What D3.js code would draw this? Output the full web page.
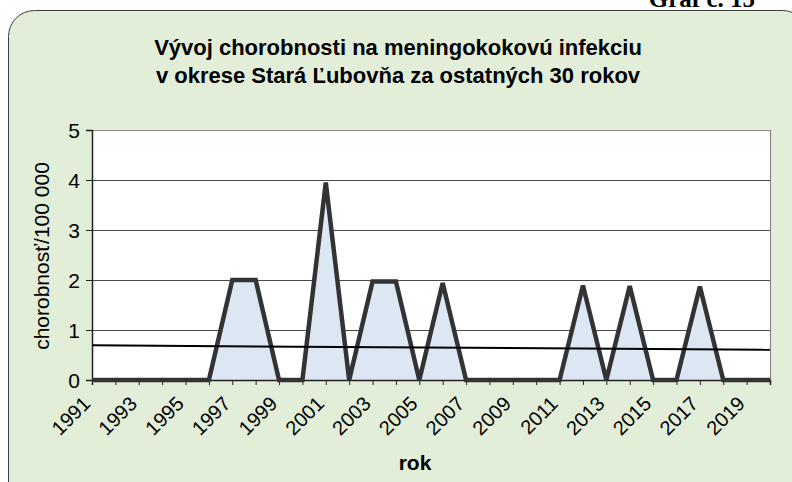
<!DOCTYPE html>
<html>
<head>
<meta charset="utf-8">
<script src="https://cdn.jsdelivr.net/npm/d3@7"></script>
<style>
  html, body { margin: 0; padding: 0; background: #ffffff; }
  svg { display: block; }
</style>
</head>
<body>
<svg id="chart" width="792" height="482"></svg>
<script>
const years = [1991,1992,1993,1994,1995,1996,1997,1998,1999,2000,2001,2002,2003,2004,2005,2006,2007,2008,2009,2010,2011,2012,2013,2014,2015,2016,2017,2018,2019,2020];
const values = [0,0,0,0,0,0,2.0,2.0,0,0,3.95,0,1.97,1.97,0,1.94,0,0,0,0,0,1.89,0,1.88,0,0,1.87,0,0,0];
const yTicks = [0,1,2,3,4,5];
const xTickLabels = [1991,1993,1995,1997,1999,2001,2003,2005,2007,2009,2011,2013,2015,2017,2019];
const titleLines = ["Vývoj chorobnosti na meningokokovú infekciu", "v okrese Stará Ľubovňa za ostatných 30 rokov"];
const yTitle = "chorobnosť/100 000";
const xTitle = "rok";
const cornerLabel = "Graf č. 15";

const svg = d3.select("#chart");
const plot = {left: 92, right: 770, top: 130, bottom: 380};
const sans = "'Liberation Sans', Arial, sans-serif";

// outer frame
svg.append("rect").attr("x", 8.5).attr("y", 10.5).attr("width", 800).attr("height", 500)
  .attr("rx", 26).attr("ry", 26)
  .attr("fill", "#e2eed8").attr("stroke", "#3c3c3c").attr("stroke-width", 1);

// corner label
svg.append("text").attr("x", 755).attr("y", 7).attr("text-anchor", "end")
  .attr("font-family", "'Liberation Serif', 'Times New Roman', serif").attr("font-weight", "bold")
  .attr("font-size", 25).attr("fill", "#000").text(cornerLabel);

// title
const title = svg.append("text").attr("text-anchor", "middle")
  .attr("font-family", sans).attr("font-weight", "bold")
  .attr("font-size", 22).attr("fill", "#000");
titleLines.forEach((t, i) => {
  title.append("tspan").attr("x", 398).attr("y", 55 + i * 28).text(t);
});

const x = d3.scaleLinear().domain([0, years.length - 1]).range([plot.left, plot.right]);
const y = d3.scaleLinear().domain([0, 5]).range([plot.bottom, plot.top]);

// plot background
svg.append("rect").attr("x", plot.left).attr("y", plot.top)
  .attr("width", plot.right - plot.left).attr("height", plot.bottom - plot.top)
  .attr("fill", "#ffffff");

// gridlines
svg.append("g").selectAll("line").data(yTicks.filter(d => d > 0 && d < 5)).join("line")
  .attr("x1", plot.left).attr("x2", plot.right)
  .attr("y1", d => Math.round(y(d)) + 0.5).attr("y2", d => Math.round(y(d)) + 0.5)
  .attr("stroke", "#4a4a4a").attr("stroke-width", 1);

// top & right border
svg.append("path")
  .attr("d", `M${plot.left},${plot.top + 0.5}H${plot.right + 0.5}V${plot.bottom}`)
  .attr("fill", "none").attr("stroke", "#8a8a8a").attr("stroke-width", 1.2);

const clipId = "plotclip";
svg.append("clipPath").attr("id", clipId).append("rect")
  .attr("x", plot.left).attr("y", plot.top - 5).attr("width", plot.right - plot.left + 3).attr("height", plot.bottom - plot.top + 10);

const series = values.map((v, i) => ({i, v}));

// area
const area = d3.area().x(d => x(d.i)).y0(y(0)).y1(d => y(d.v));
svg.append("path").datum(series).attr("d", area)
  .attr("fill", "#dce7f3").attr("stroke", "none");

// trendline (linear least squares, as in the source chart)
const n = values.length;
const mx = d3.mean(series, d => d.i), my = d3.mean(values);
const slope = d3.sum(series, d => (d.i - mx) * (d.v - my)) / d3.sum(series, d => (d.i - mx) ** 2);
const icpt = my - slope * mx;

// axes
const yAxis = d3.axisLeft(y).tickValues(yTicks).tickSize(6).tickFormat(d3.format("d"));
const gy = svg.append("g").attr("transform", `translate(${plot.left},0)`).call(yAxis);
gy.select(".domain").attr("stroke", "#222").attr("stroke-width", 1.5);
gy.selectAll(".tick line").attr("stroke", "#222");
gy.selectAll(".tick text").attr("font-family", sans)
  .attr("font-size", 21).attr("fill", "#000").attr("x", -12).attr("dy", "0.36em");

const xAxis = d3.axisBottom(x).tickValues(d3.range(n)).tickSize(5)
  .tickFormat(i => xTickLabels.includes(years[i]) ? years[i] : "");
const gx = svg.append("g").attr("transform", `translate(0,${plot.bottom})`).call(xAxis);
gx.select(".domain").attr("stroke", "#222").attr("stroke-width", 1.5);
gx.selectAll(".tick line").attr("stroke", "#222");
gx.selectAll(".tick text")
  .attr("font-family", sans).attr("font-size", 20).attr("fill", "#000")
  .attr("text-anchor", "end").attr("dy", 0).attr("y", 0)
  .attr("transform", "translate(-1,25) rotate(-45)");

// series line
const line = d3.line().x(d => x(d.i)).y(d => y(d.v));
svg.append("path").datum(series).attr("d", line)
  .attr("clip-path", `url(#${clipId})`)
  .attr("fill", "none").attr("stroke", "#333333").attr("stroke-width", 4.5)
  .attr("stroke-linejoin", "miter");

svg.append("line")
  .attr("x1", x(0)).attr("x2", x(n - 1))
  .attr("y1", y(icpt)).attr("y2", y(icpt + slope * (n - 1)))
  .attr("stroke", "#000").attr("stroke-width", 2);

// axis titles
svg.append("text").attr("transform", `translate(49,256) rotate(-90)`)
  .attr("text-anchor", "middle")
  .attr("font-family", sans).attr("font-size", 21).attr("fill", "#000")
  .text(yTitle);

svg.append("text").attr("x", 415).attr("y", 470).attr("text-anchor", "middle")
  .attr("font-family", sans).attr("font-weight", "bold")
  .attr("font-size", 21).attr("fill", "#000").text(xTitle);
</script>
</body>
</html>
